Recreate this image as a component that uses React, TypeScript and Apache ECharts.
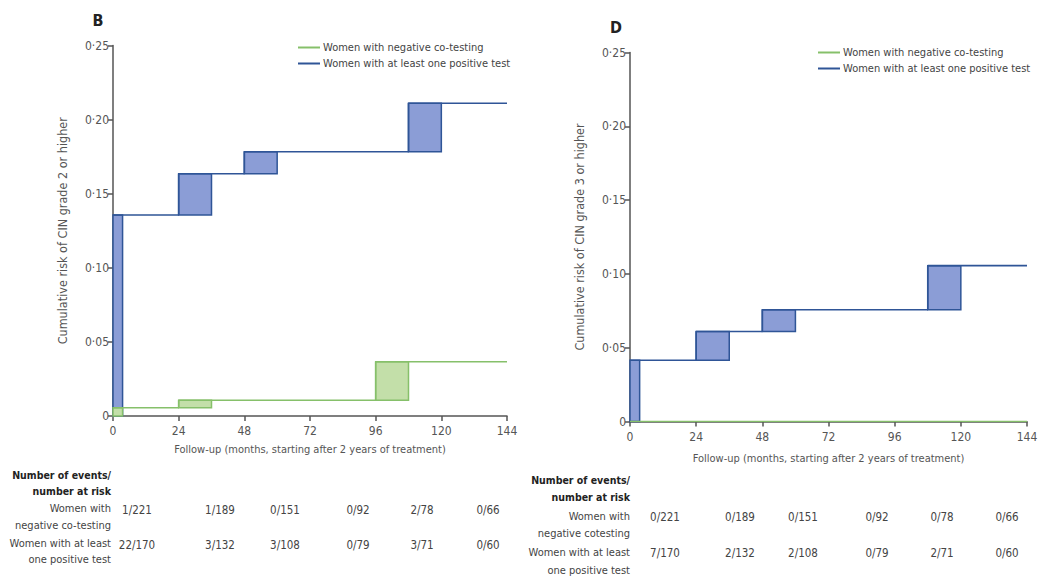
import React, { useEffect, useRef } from "react";
import * as echarts from "echarts";

// ---- Data ----
const months = [0, 24, 48, 72, 96, 120, 144];
const yTicks = [0, 0.05, 0.1, 0.15, 0.2, 0.25];

// Panel B (CIN grade 2 or higher)
const B_negJumpStart = [0, 24, 96];
const B_negJumpEnd = [3.5, 36, 108];
const B_negRisk = [0, 0.0056, 0.0106, 0.0366];
const B_posJumpStart = [0, 24, 48, 108];
const B_posJumpEnd = [3.5, 36, 60, 120];
const B_posRisk = [0, 0.1356, 0.1635, 0.1783, 0.211];

// Panel D (CIN grade 3 or higher)
const D_negJumpStart: number[] = [];
const D_negJumpEnd: number[] = [];
const D_negRisk = [0];
const D_posJumpStart = [0, 24, 48, 108];
const D_posJumpEnd = [3.5, 36, 60, 120];
const D_posRisk = [0, 0.0415, 0.061, 0.0757, 0.1056];

// Number of events / number at risk
const B_tableNeg = ["1/221", "1/189", "0/151", "0/92", "2/78", "0/66"];
const B_tablePos = ["22/170", "3/132", "3/108", "0/79", "3/71", "0/60"];
const D_tableNeg = ["0/221", "0/189", "0/151", "0/92", "0/78", "0/66"];
const D_tablePos = ["7/170", "2/132", "2/108", "0/79", "2/71", "0/60"];

const NEG_NAME = "Women with negative co-testing";
const POS_NAME = "Women with at least one positive test";

const FONT = '"Liberation Sans Narrow", "DejaVu Sans Condensed", "Arial Narrow", "Liberation Sans", sans-serif';
const BLUE_LINE = "#2f5597";
const BLUE_FILL = "#8b9dd6";
const GREEN_LINE = "#86c06a";
const GREEN_FILL = "#c3dfa9";

function rectData(starts: number[], ends: number[], risk: number[]) {
  return starts.map((s, i) => [s, ends[i], risk[i], risk[i + 1]]);
}
function stepData(starts: number[], risk: number[]) {
  const pts: number[][] = [];
  if (starts.length === 0) {
    pts.push([0, risk[0]], [144, risk[0]]);
    return pts;
  }
  starts.forEach((s, i) => pts.push([s, risk[i + 1]]));
  pts.push([144, risk[risk.length - 1]]);
  return pts;
}

function rectSeries(idx: number, data: number[][], fill: string, stroke: string) {
  return {
    type: "custom",
    xAxisIndex: idx,
    yAxisIndex: idx,
    silent: true,
    data,
    encode: { x: [0, 1], y: [2, 3] },
    renderItem: (params: any, api: any) => {
      const p0 = api.coord([api.value(0), api.value(3)]);
      const p1 = api.coord([api.value(1), api.value(2)]);
      return {
        type: "rect",
        shape: { x: p0[0], y: p0[1], width: p1[0] - p0[0], height: p1[1] - p0[1] },
        style: { fill, stroke, lineWidth: 1.5 },
      };
    },
  };
}

function lineSeries(idx: number, name: string, data: number[][], color: string, width: number) {
  return {
    type: "line",
    name,
    xAxisIndex: idx,
    yAxisIndex: idx,
    step: "end",
    symbol: "none",
    data,
    lineStyle: { color, width },
    itemStyle: { color },
  };
}

const fmtY = (v: number) => (v === 0 ? "0" : v.toFixed(2).replace(".", "·"));

function yAxis(idx: number, name: string) {
  return {
    type: "value",
    gridIndex: idx,
    min: yTicks[0],
    max: yTicks[yTicks.length - 1],
    interval: 0.05,
    name,
    nameLocation: "middle",
    nameGap: 44,
    nameTextStyle: { fontFamily: FONT, fontSize: 12.5, color: "#555" },
    axisLine: { show: true, lineStyle: { color: "#555", width: 1.5 } },
    axisTick: { show: true, length: 5, lineStyle: { color: "#555", width: 1.5 } },
    axisLabel: { formatter: fmtY, fontFamily: FONT, fontSize: 12, color: "#555", margin: 4 },
    splitLine: { show: false },
  };
}

function xAxis(idx: number, gap: number) {
  return {
    type: "value",
    gridIndex: idx,
    min: months[0],
    max: months[months.length - 1],
    interval: 24,
    name: "Follow-up (months, starting after 2 years of treatment)",
    nameLocation: "middle",
    nameGap: gap,
    nameTextStyle: { fontFamily: FONT, fontSize: 11, color: "#555" },
    axisLine: { show: true, onZero: false, lineStyle: { color: "#555", width: 1.5 } },
    axisTick: { show: true, length: 5, lineStyle: { color: "#555", width: 1.5 } },
    axisLabel: { fontFamily: FONT, fontSize: 12, color: "#555", margin: 9 },
    splitLine: { show: false },
  };
}

function tableGraphics(
  labelRight: number,
  headerY: number[],
  labelY: number[],
  rowY: number[],
  cols: number[],
  labels: string[],
  neg: string[],
  pos: string[]
) {
  const els: any[] = [];
  ["Number of events/", "number at risk"].forEach((t, i) =>
    els.push({
      type: "text",
      x: labelRight,
      y: headerY[i],
      style: { text: t, fill: "#222", font: `bold 10.5px ${FONT}`, align: "right", verticalAlign: "middle" },
    })
  );
  labels.forEach((t, i) =>
    els.push({
      type: "text",
      x: labelRight,
      y: labelY[i],
      style: { text: t, fill: "#444", font: `11px ${FONT}`, align: "right", verticalAlign: "middle" },
    })
  );
  [neg, pos].forEach((row, r) =>
    row.forEach((t, c) =>
      els.push({
        type: "text",
        x: cols[c],
        y: rowY[r],
        style: { text: t, fill: "#444", font: `11.5px ${FONT}`, align: "center", verticalAlign: "middle" },
      })
    )
  );
  return els;
}

export default function App() {
  const ref = useRef<HTMLDivElement>(null);
  useEffect(() => {
    if (!ref.current) return;
    const chart = echarts.init(ref.current, undefined, { renderer: "svg" });
    const graphic = [
      {
        type: "text",
        x: 98,
        y: 20,
        style: { text: "B", fill: "#222", font: `bold 16px ${FONT}`, align: "center", verticalAlign: "middle" },
      },
      {
        type: "text",
        x: 616,
        y: 27,
        style: { text: "D", fill: "#222", font: `bold 16px ${FONT}`, align: "center", verticalAlign: "middle" },
      },
      ...tableGraphics(
        111,
        [475, 491],
        [508, 525, 543, 559],
        [510, 545],
        [137, 220, 285, 358, 422, 488],
        ["Women with", "negative co-testing", "Women with at least", "one positive test"],
        B_tableNeg,
        B_tablePos
      ),
      ...tableGraphics(
        630,
        [480, 497],
        [516, 533, 552, 570],
        [517, 553],
        [665, 740, 803, 877, 942, 1007],
        ["Women with", "negative cotesting", "Women with at least", "one positive test"],
        D_tableNeg,
        D_tablePos
      ),
    ];
    const legendCommon = {
      orient: "vertical",
      itemWidth: 22,
      itemHeight: 2,
      itemGap: 5,
      icon: "rect",
      selectedMode: false,
      data: [NEG_NAME, POS_NAME],
      textStyle: { fontFamily: FONT, fontSize: 11, color: "#444", padding: [0, 0, 0, -2] },
    };
    chart.setOption({
      animation: false,
      backgroundColor: "#ffffff",
      grid: [
        { left: 113, top: 45.5, width: 394, height: 370.5 },
        { left: 630, top: 52.5, width: 397, height: 369 },
      ],
      xAxis: [xAxis(0, 28), xAxis(1, 31)],
      yAxis: [
        yAxis(0, "Cumulative risk of CIN grade 2 or higher"),
        yAxis(1, "Cumulative risk of CIN grade 3 or higher"),
      ],
      legend: [
        { ...legendCommon, left: 293, top: 37 },
        { ...legendCommon, left: 813, top: 42 },
      ],
      graphic,
      series: [
        rectSeries(0, rectData(B_posJumpStart, B_posJumpEnd, B_posRisk), BLUE_FILL, BLUE_LINE),
        lineSeries(0, POS_NAME, stepData(B_posJumpStart, B_posRisk), BLUE_LINE, 1.6),
        rectSeries(0, rectData(B_negJumpStart, B_negJumpEnd, B_negRisk), GREEN_FILL, GREEN_LINE),
        lineSeries(0, NEG_NAME, stepData(B_negJumpStart, B_negRisk), GREEN_LINE, 1.5),
        rectSeries(1, rectData(D_posJumpStart, D_posJumpEnd, D_posRisk), BLUE_FILL, BLUE_LINE),
        lineSeries(1, POS_NAME, stepData(D_posJumpStart, D_posRisk), BLUE_LINE, 1.6),
        rectSeries(1, rectData(D_negJumpStart, D_negJumpEnd, D_negRisk), GREEN_FILL, GREEN_LINE),
        lineSeries(1, NEG_NAME, stepData(D_negJumpStart, D_negRisk), GREEN_LINE, 1.5),
      ],
    });
    return () => chart.dispose();
  }, []);
  return (
    <div
      ref={ref}
      style={{ position: "fixed", left: 0, top: 0, width: 1047, height: 584, background: "#fff" }}
    />
  );
}
